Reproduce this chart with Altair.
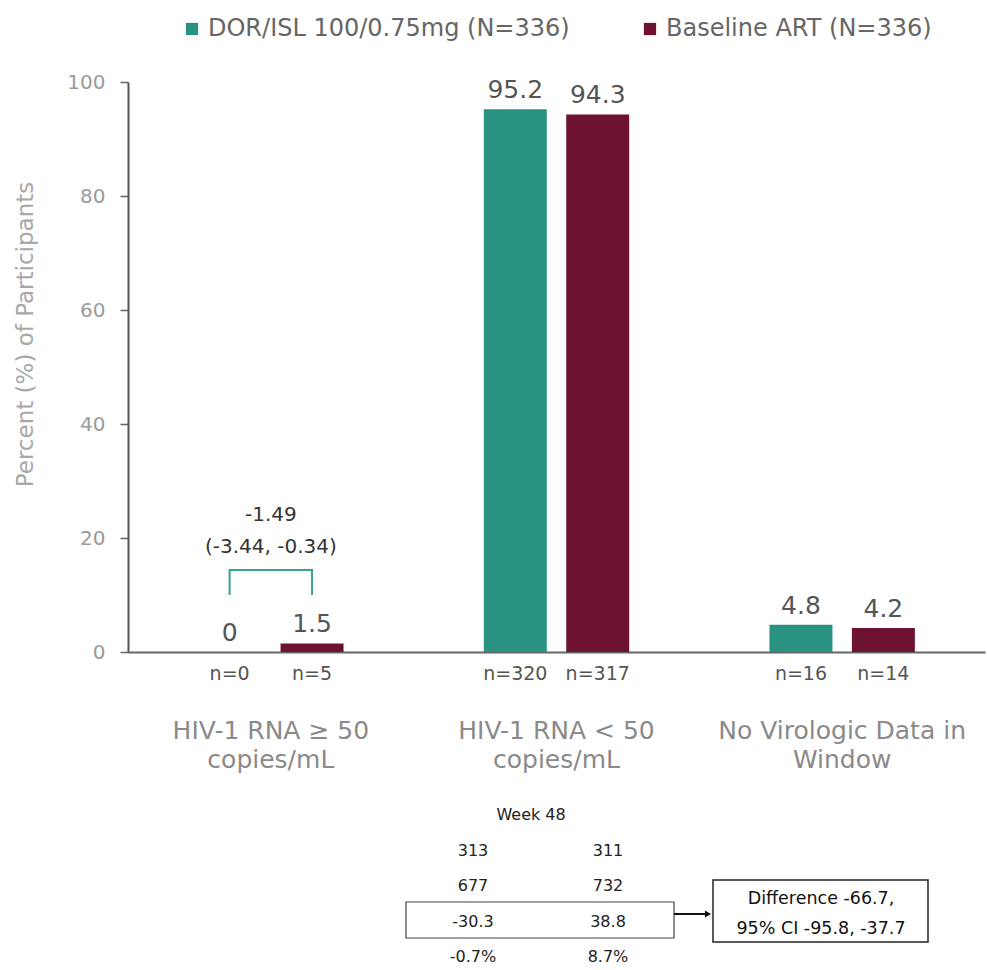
import altair as alt
import pandas as pd

# ---- data -------------------------------------------------------------
categories = [
    "HIV-1 RNA ≥ 50|copies/mL",
    "HIV-1 RNA < 50|copies/mL",
    "No Virologic Data in|Window",
]
series = ["DOR/ISL 100/0.75mg (N=336)", "Baseline ART (N=336)"]
series_colors = ["#2a9283", "#6d1233"]

dor_pct = [0, 95.2, 4.8]
art_pct = [1.5, 94.3, 4.2]
dor_n = [0, 320, 16]
art_n = [5, 317, 14]

# treatment difference for the HIV-1 RNA >= 50 category
diff_est = "-1.49"
diff_ci = "(-3.44, -0.34)"
bracket_top = 14.4
bracket_foot = 10.0

# week 48 summary table
week_label = "Week 48"
table_rows = [
    ["313", "311"],
    ["677", "732"],
    ["-30.3", "38.8"],
    ["-0.7%", "8.7%"],
]
diff_text = "Difference -66.7,\n95% CI -95.8, -37.7"

FONT = "DejaVu Sans"

# ---- frames -----------------------------------------------------------
rows = []
for i, cat in enumerate(categories):
    rows.append({"cat": cat, "series": series[0], "pct": dor_pct[i], "n": f"n={dor_n[i]}"})
    rows.append({"cat": cat, "series": series[1], "pct": art_pct[i], "n": f"n={art_n[i]}"})
bars_df = pd.DataFrame(rows)
bars_df["label"] = bars_df["pct"].map(lambda v: f"{v:g}")
bars_df["base"] = 0

bracket_df = pd.DataFrame({
    "cat": [categories[0]] * 4,
    "series": [series[0], series[0], series[1], series[1]],
    "y": [bracket_foot, bracket_top, bracket_top, bracket_foot],
    "order": [0, 1, 2, 3],
})

diff_df = pd.DataFrame({
    "cat": [categories[0], categories[0]],
    "y": [24.0, 18.4],
    "text": [diff_est, diff_ci],
})

tbl = [{"col": 0.43, "row": 0, "text": week_label}]
for r, pair in enumerate(table_rows, start=1):
    tbl.append({"col": 0, "row": r, "text": pair[0]})
    tbl.append({"col": 1, "row": r, "text": pair[1]})
table_df = pd.DataFrame(tbl)

# ---- encodings ---------------------------------------------------------
x_enc = alt.X(
    "cat:N",
    sort=categories,
    scale=alt.Scale(paddingInner=0, paddingOuter=0),
    axis=alt.Axis(
        title=None,
        ticks=False,
        labelAngle=0,
        labelExpr="split(datum.label, '|')",
        labelFontSize=25,
        labelColor="#8a8a8a",
        labelFont=FONT,
        labelPadding=66,
        labelLineHeight=29,
        labelLimit=400,
        domainColor="#666666",
        domainWidth=2,
    ),
)
xoff_enc = alt.XOffset(
    "series:N", sort=series, scale=alt.Scale(paddingInner=0.236, paddingOuter=0.851)
)
y_scale = alt.Scale(domain=[0, 100], nice=False)

bars = alt.Chart(bars_df).mark_bar().encode(
    x=x_enc,
    xOffset=xoff_enc,
    y=alt.Y(
        "pct:Q",
        scale=y_scale,
        axis=alt.Axis(
            title="Percent (%) of Participants",
            values=[0, 20, 40, 60, 80, 100],
            grid=False,
            tickSize=8,
            tickColor="#666666",
            tickWidth=1.5,
            domainColor="#555555",
            domainWidth=2,
            labelFontSize=20,
            labelColor="#9a9a9a",
            labelFont=FONT,
            labelPadding=15,
            titleFontSize=23,
            titleFont=FONT,
            titleFontWeight="normal",
            titleColor="#a8a8a8",
            titleX=-103,
            titleY=252,
            titleAlign="center",
            titleBaseline="middle",
            titleAngle=270,
        ),
    ),
    color=alt.Color(
        "series:N",
        sort=series,
        scale=alt.Scale(domain=series, range=series_colors),
        legend=alt.Legend(
            title=None,
            orient="none",
            direction="horizontal",
            legendX=52,
            legendY=-65,
            symbolType="square",
            symbolSize=150,
            symbolStrokeWidth=0,
            labelFontSize=24,
            labelFont=FONT,
            labelColor="#666666",
            labelOffset=4,
            columnPadding=68,
            labelLimit=600,
        ),
    ),
)

x_shared = alt.X("cat:N", sort=categories)

value_labels = alt.Chart(bars_df).mark_text(
    baseline="alphabetic", dy=-11, fontSize=25, font=FONT, color="#555555"
).encode(x=x_shared, xOffset=xoff_enc, y=alt.Y("pct:Q", scale=y_scale), text="label:N")

n_labels = alt.Chart(bars_df).mark_text(
    baseline="middle", dy=22, fontSize=19, font=FONT, color="#555555"
).encode(x=x_shared, xOffset=xoff_enc, y=alt.Y("base:Q", scale=y_scale), text="n:N")

bracket = alt.Chart(bracket_df).mark_line(color="#3aa292", strokeWidth=2).encode(
    x=x_shared,
    xOffset=xoff_enc,
    y=alt.Y("y:Q", scale=y_scale),
    order="order:Q",
)

diff_labels = alt.Chart(diff_df).mark_text(
    baseline="middle", fontSize=20, font=FONT, color="#333333"
).encode(x=x_shared, y=alt.Y("y:Q", scale=y_scale), text="text:N")

main = alt.layer(bars, value_labels, n_labels, bracket, diff_labels)

# ---- week 48 table below the plot ---------------------------------------
table_text = alt.Chart(table_df).mark_text(
    baseline="middle", fontSize=16, font=FONT, color="#222222"
).encode(
    x=alt.X("col:Q", scale=alt.Scale(domain=[0, 1], range=[345, 480]), axis=None),
    y=alt.Y("row:Q", scale=alt.Scale(domain=[0, 4], range=[733, 875]), axis=None),
    text="text:N",
)

box_df = pd.DataFrame({"k": [0]})
row_box = alt.Chart(box_df).mark_rect(fill="white", fillOpacity=0, stroke="#444444", strokeWidth=1.2).encode(
    x=alt.value(278), x2=alt.value(546), y=alt.value(820), y2=alt.value(856)
)
arrow_line = alt.Chart(box_df).mark_rule(color="#111111", strokeWidth=2).encode(
    x=alt.value(546), x2=alt.value(578), y=alt.value(832)
)
arrow_head = alt.Chart(box_df).mark_point(
    shape="triangle-right", filled=True, color="#111111", size=50, opacity=1
).encode(x=alt.value(580), y=alt.value(832))
diff_box = alt.Chart(box_df).mark_rect(fill="white", fillOpacity=0, stroke="#222222", strokeWidth=1.5).encode(
    x=alt.value(585), x2=alt.value(800), y=alt.value(798), y2=alt.value(860)
)
diff_label = alt.Chart(pd.DataFrame({"t": [diff_text]})).mark_text(
    lineBreak="\n", lineHeight=30, fontSize=17.5, font=FONT, color="#111111", baseline="middle"
).encode(x=alt.value(693), y=alt.value(817), text="t:N")

table = alt.layer(table_text, row_box, arrow_line, arrow_head, diff_box, diff_label)

chart = (
    alt.layer(main, table)
    .resolve_scale(x="independent", y="independent")
    .properties(
        width=857,
        height=570,
        autosize="none",
        padding={"left": 128, "top": 82, "right": 2, "bottom": 318},
    )
    .configure(background="white")
    .configure_view(strokeWidth=0, stroke="transparent")
)

chart.save("out.html", embed_options={"renderer": "svg", "actions": False})
